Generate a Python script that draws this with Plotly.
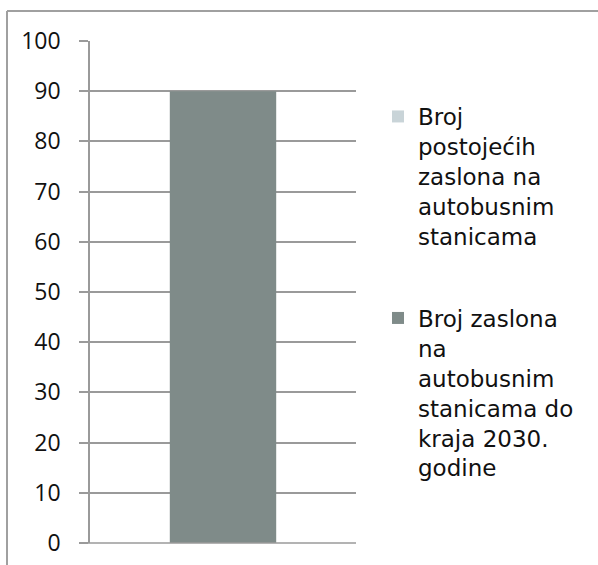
import plotly.graph_objects as go

categories = ["Kategorija 1"]
series_names = [
    "Broj<br>postojećih<br>zaslona na<br>autobusnim<br>stanicama",
    "Broj zaslona<br>na<br>autobusnim<br>stanicama do<br>kraja 2030.<br>godine",
]
existing_screens = [0]
screens_2030 = [90]
y_ticks = [0, 10, 20, 30, 40, 50, 60, 70, 80, 90, 100]

W, H = 598, 565
L, R, T, B = 90, 356, 41, 543
pw, ph = R - L, B - T

def px_x(x):
    return (x - L) / pw

def px_y(y):
    return (B - y) / ph

fig = go.Figure()
fig.add_trace(go.Bar(x=categories, y=existing_screens, name=series_names[0],
                     marker=dict(color="#c9d4d8", line=dict(width=0)),
                     width=0.4, legendgroup="a"))
fig.add_trace(go.Bar(x=categories, y=screens_2030, name=series_names[1],
                     marker=dict(color="#7f8b89", line=dict(width=0)),
                     width=0.4, legendgroup="b"))

grid = "#9a9a9a"
fig.update_layout(
    width=W, height=H,
    margin=dict(l=L, r=W - R, t=T, b=H - B, pad=0, autoexpand=False),
    paper_bgcolor="white", plot_bgcolor="white",
    barmode="overlay",
    showlegend=True,
    legend=dict(x=px_x(378), y=px_y(95), xanchor="left", yanchor="top",
                font=dict(family="DejaVu Sans", size=23, color="#111111"),
                valign="top", traceorder="grouped", tracegroupgap=49,
                bgcolor="rgba(0,0,0,0)"),
    xaxis=dict(showticklabels=False, showgrid=False, zeroline=False,
               showline=False, ticks="", automargin=False),
    yaxis=dict(range=[0, 100], tickvals=y_ticks, showgrid=True,
               gridcolor=grid, gridwidth=1.5, zeroline=False,
               showline=True, linecolor=grid, linewidth=1.5,
               ticks="outside", ticklen=9, tickcolor=grid, tickwidth=1.5,
               ticklabelstandoff=14, automargin=False,
               tickfont=dict(family="Open Sans", size=23, color="#111111")),
    shapes=[
        dict(type="line", xref="paper", yref="paper",
             x0=px_x(7), x1=px_x(600), y0=px_y(11), y1=px_y(11),
             line=dict(color="#a0a0a0", width=2)),
        dict(type="line", xref="paper", yref="paper",
             x0=px_x(7), x1=px_x(7), y0=px_y(11), y1=px_y(570),
             line=dict(color="#a0a0a0", width=2)),
        dict(type="line", xref="paper", yref="paper",
             x0=px_x(81), x1=px_x(R), y0=0, y1=0,
             line=dict(color=grid, width=1.5)),
    ],
)
fig.write_html("out.html", config={"displayModeBar": False},
               post_script="document.body.style.margin='0';")
